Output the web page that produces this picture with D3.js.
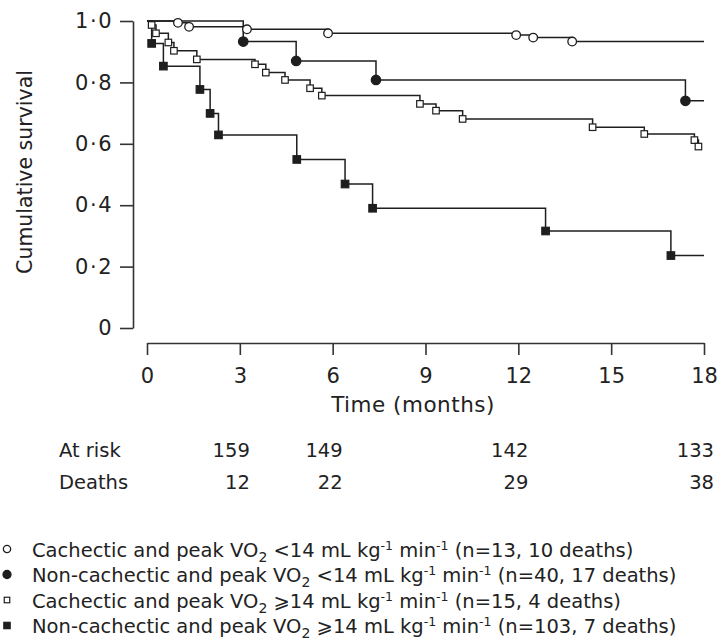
<!DOCTYPE html>
<html>
<head>
<meta charset="utf-8">
<script src="https://cdn.jsdelivr.net/npm/d3@7/dist/d3.min.js"></script>
<style>
  body { margin: 0; background: #fff; }
  svg { display: block; font-family: "DejaVu Sans", sans-serif; }
  .axis path, .axis line { stroke: #333; stroke-width: 1.6; }
  .axis text { fill: #222; font-size: 21px; font-family: "DejaVu Sans", sans-serif; }
  .y-axis text { letter-spacing: 1.5px; }
</style>
</head>
<body>
<svg width="721" height="640"></svg>
<script>
// Kaplan-Meier steps (time in months, cumulative survival)
const openCircleTimes = [1.0, 1.36, 3.23, 5.85, 11.93, 12.48, 13.74];
const openCircleSurv = [0.994, 0.981, 0.973, 0.960, 0.954, 0.946, 0.933];

const filledCircleTimes = [3.11, 4.82, 7.4, 17.4];
const filledCircleSurv = [0.933, 0.870, 0.808, 0.740];

const openSquareTimes = [0.15, 0.29, 0.69, 0.87, 1.61, 3.49, 3.84, 4.46, 5.27, 5.65,
  8.82, 9.34, 10.2, 14.4, 16.07, 17.69, 17.82];
const openSquareSurv = [0.987, 0.960, 0.930, 0.903, 0.875, 0.859, 0.832, 0.808, 0.781, 0.757,
  0.730, 0.708, 0.681, 0.654, 0.632, 0.612, 0.591];

const filledSquareTimes = [0.15, 0.53, 1.71, 2.04, 2.31, 4.84, 6.40, 7.29, 12.88, 16.93];
const filledSquareSurv = [0.927, 0.853, 0.777, 0.699, 0.629, 0.549, 0.469, 0.390, 0.316, 0.236];

const followUpEnd = [18, 18, 17.82, 18];

const xTicks = [0, 3, 6, 9, 12, 15, 18];
const yTicks = [0, 0.2, 0.4, 0.6, 0.8, 1.0];

const riskTimes = [3, 6, 12, 18];
const atRisk = [159, 149, 142, 133];
const deaths = [12, 22, 29, 38];

const legendLabels = [
  ["Cachectic and peak VO", "<14", "(n=13, 10 deaths)"],
  ["Non-cachectic and peak VO", "<14", "(n=40, 17 deaths)"],
  ["Cachectic and peak VO", "\u2A7E14", "(n=15, 4 deaths)"],
  ["Non-cachectic and peak VO", "\u2A7E14", "(n=103, 7 deaths)"]
];
const markerKinds = ["openCircle", "filledCircle", "openSquare", "filledSquare"];

const svg = d3.select("svg");
const ink = "#1e1e1e";

const x = d3.scaleLinear().domain([0, 18]).range([147, 704]);
const y = d3.scaleLinear().domain([0, 1]).range([328, 21]);

// axes
svg.append("g")
  .attr("class", "axis y-axis")
  .attr("transform", "translate(133,0)")
  .call(d3.axisLeft(y).tickValues(yTicks).tickSize(13).tickSizeOuter(0).tickPadding(7)
    .tickFormat(d => d === 0 ? "0" : d3.format(".1f")(d).replace(".", "\u00B7")));

svg.append("g")
  .attr("class", "axis")
  .attr("transform", "translate(0,343)")
  .call(d3.axisBottom(x).tickValues(xTicks).tickSize(12).tickSizeOuter(0).tickPadding(13));

svg.append("text")
  .attr("transform", "translate(32,172) rotate(-90)")
  .attr("text-anchor", "middle")
  .attr("font-size", 20.5)
  .attr("fill", "#222")
  .text("Cumulative survival");

svg.append("text")
  .attr("x", 413)
  .attr("y", 412)
  .attr("text-anchor", "middle")
  .attr("font-size", 21.5)
  .attr("letter-spacing", 0.5)
  .attr("fill", "#222")
  .text("Time (months)");

// survival curves
const series = [
  { kind: "openCircle", t: openCircleTimes, s: openCircleSurv, end: followUpEnd[0] },
  { kind: "filledCircle", t: filledCircleTimes, s: filledCircleSurv, end: followUpEnd[1] },
  { kind: "openSquare", t: openSquareTimes, s: openSquareSurv, end: followUpEnd[2] },
  { kind: "filledSquare", t: filledSquareTimes, s: filledSquareSurv, end: followUpEnd[3] }
];

const step = d3.line()
  .x(d => x(d[0]))
  .y(d => y(d[1]))
  .curve(d3.curveStepAfter);

series.forEach(function (sr) {
  const pts = [[0, 1]];
  sr.t.forEach((t, i) => pts.push([t, sr.s[i]]));
  pts.push([sr.end, sr.s[sr.s.length - 1]]);
  svg.append("path")
    .attr("d", step(pts))
    .attr("fill", "none")
    .attr("stroke", ink)
    .attr("stroke-width", 1.5);
});

function drawMarker(g, kind, cx, cy, scale) {
  const k = scale || 1;
  if (kind === "openCircle" || kind === "filledCircle") {
    g.append("circle")
      .attr("cx", cx).attr("cy", cy)
      .attr("r", (kind === "openCircle" ? 4.3 : 4.7) * k)
      .attr("fill", kind === "openCircle" ? "#fff" : ink)
      .attr("stroke", ink)
      .attr("stroke-width", 1.3);
  } else {
    const side = (kind === "openSquare" ? 6.5 : 7.5) * k;
    g.append("rect")
      .attr("x", cx - side / 2).attr("y", cy - side / 2)
      .attr("width", side).attr("height", side)
      .attr("fill", kind === "openSquare" ? "#fff" : ink)
      .attr("stroke", ink)
      .attr("stroke-width", 1.2);
  }
}

const marks = svg.append("g");
series.forEach(function (sr) {
  sr.t.forEach((t, i) => drawMarker(marks, sr.kind, x(t), y(sr.s[i])));
});

// numbers at risk
const risk = svg.append("g").attr("font-size", 19.5).attr("fill", "#222");
risk.append("text").attr("x", 59).attr("y", 457).text("At risk");
risk.append("text").attr("x", 59).attr("y", 489).text("Deaths");
risk.selectAll(".n").data(atRisk).enter().append("text")
  .attr("x", (d, i) => x(riskTimes[i]) + 10)
  .attr("y", 457)
  .attr("text-anchor", "end")
  .text(d => d);
risk.selectAll(".d").data(deaths).enter().append("text")
  .attr("x", (d, i) => x(riskTimes[i]) + 10)
  .attr("y", 489)
  .attr("text-anchor", "end")
  .text(d => d);

// legend
const legend = svg.append("g").attr("font-size", 19.5).attr("fill", "#222");
legendLabels.forEach(function (lab, i) {
  const cy = 549 + i * 25.5;
  drawMarker(legend, markerKinds[i], 7, cy, 0.85);
  const t = legend.append("text").attr("x", 32).attr("y", cy + 7.5);
  t.append("tspan").text(lab[0]);
  t.append("tspan").attr("font-size", 14).attr("dy", 5).text("2");
  t.append("tspan").attr("dy", -5).text(" " + lab[1] + " mL kg");
  t.append("tspan").attr("font-size", 12.5).attr("dy", -7).text("-1");
  t.append("tspan").attr("dy", 7).text(" min");
  t.append("tspan").attr("font-size", 12.5).attr("dy", -7).text("-1");
  t.append("tspan").attr("dy", 7).text(" " + lab[2]);
});
</script>
</body>
</html>
